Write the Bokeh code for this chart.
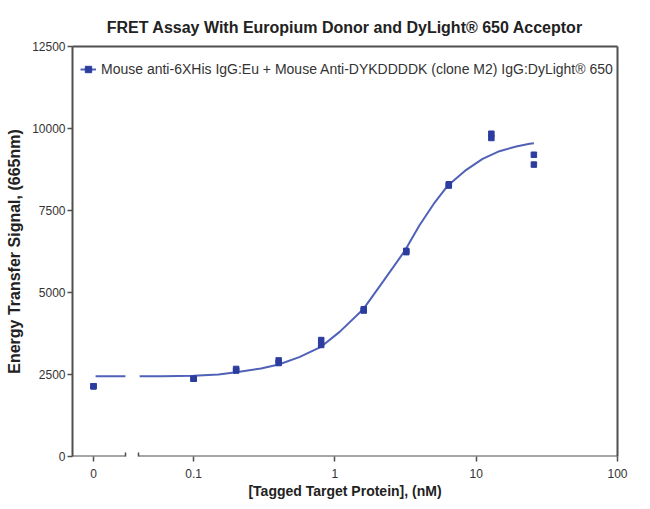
import math
from bokeh.plotting import figure
from bokeh.models import (Range1d, LinearAxis, LogAxis, LinearScale, FixedTicker,
                          Legend, LegendItem)
from bokeh.embed import file_html
from bokeh.resources import INLINE

title_text = "FRET Assay With Europium Donor and DyLight\u00ae 650 Acceptor"
x_label = "[Tagged Target Protein], (nM)"
y_label = "Energy Transfer Signal, (665nm)"
series_name = "Mouse anti-6XHis IgG:Eu + Mouse Anti-DYKDDDDK (clone M2) IgG:DyLight\u00ae 650"

# measured points (two replicates per concentration)
conc = [0.1, 0.2, 0.4, 0.8, 1.6, 3.2, 6.4, 12.8, 25.6]
rep1 = [2370, 2620, 2850, 3400, 4450, 6230, 8260, 9710, 8900]
rep2 = [2370, 2670, 2930, 3550, 4490, 6270, 8300, 9840, 9200]
zero_conc = [0, 0]
zero_signal = [2140, 2140]

# fitted curve
fit_conc = [0.0415, 0.06, 0.1, 0.15, 0.2, 0.3, 0.4, 0.56, 0.79, 1.08, 1.58, 2.19,
            3.11, 3.97, 5.0, 6.31, 8.51, 11.1, 14.6, 19.2, 23.9, 25.6]
fit_signal = [2445, 2450, 2460, 2500, 2570, 2680, 2805, 3030, 3333, 3800, 4480, 5330,
              6260, 7050, 7700, 8263, 8740, 9076, 9309, 9452, 9534, 9550]
fit_zero_x = [0.1, 1.52]
fit_zero_y = [2445, 2445]

y_ticks = [0, 2500, 5000, 7500, 10000, 12500]
x_ticks = [0.1, 1, 10, 100]
x_tick_labels = ["0.1", "1", "10", "100"]
zero_label = "0"

FONT = "Liberation Sans"
AXIS_COLOR = "#4f4f4f"
MARK_COLOR = "#2c3d9f"
LINE_COLOR = "#5061b8"

LOG_LO, LOG_HI = 0.0139, 100
ZERO_LO, ZERO_HI = -1, 24.952
LEFT_END = 1.52      # end of the zero segment of the axis
RIGHT_START = 0.0405  # start of the log segment of the axis

p = figure(width=642, height=505, x_axis_type="log",
           x_range=Range1d(LOG_LO, LOG_HI), y_range=Range1d(0, 12500),
           output_backend="svg", toolbar_location=None,
           min_border_left=72, min_border_right=25, min_border_top=46,
           min_border_bottom=49)
p.extra_x_ranges = {"zero": Range1d(ZERO_LO, ZERO_HI)}
p.extra_x_scales = {"zero": LinearScale()}
p.outline_line_color = None
p.xgrid.visible = False
p.ygrid.visible = False

p.title.text = title_text
p.title.align = "center"
p.title.text_font = FONT
p.title.text_font_size = "16px"
p.title.text_font_style = "bold"
p.title.text_color = "#222222"
p.title.standoff = 22


def style_axis(ax):
    ax.axis_line_color = AXIS_COLOR
    ax.axis_line_width = 2
    ax.major_tick_line_color = AXIS_COLOR
    ax.major_tick_line_width = 1.5
    ax.minor_tick_line_color = AXIS_COLOR
    ax.minor_tick_line_width = 1.5
    ax.major_tick_in = 0
    ax.major_tick_out = 5
    ax.minor_tick_in = 0
    ax.minor_tick_out = 0
    ax.major_label_text_font = FONT
    ax.major_label_text_font_size = "12px"
    ax.major_label_text_color = "#333333"
    ax.axis_label_text_font = FONT
    ax.axis_label_text_font_style = "bold"
    ax.axis_label_text_color = "#222222"


# position of concentration 0 on the log axis (same screen spot as the zero range's 0)
frac0 = (0 - ZERO_LO) / (ZERO_HI - ZERO_LO)
zero_tick = 10 ** (math.log10(LOG_LO) + frac0 * (math.log10(LOG_HI) - math.log10(LOG_LO)))

# bottom axis: ticks and labels only
xa = p.xaxis[0]
style_axis(xa)
xa.axis_line_color = None
xa.ticker = FixedTicker(ticks=[zero_tick] + x_ticks)
overrides = {t: l for t, l in zip(x_ticks, x_tick_labels)}
overrides[zero_tick] = zero_label
xa.major_label_overrides = overrides
xa.axis_label = x_label
xa.axis_label_text_font_size = "14px"
xa.major_label_standoff = 7
xa.axis_label_standoff = 2

# broken axis line: zero segment and log segment
za = LinearAxis(x_range_name="zero", fixed_location=0,
                ticker=FixedTicker(ticks=[], minor_ticks=[LEFT_END]),
                bounds=(ZERO_LO, LEFT_END))
style_axis(za)
za.minor_tick_in = 4
za.minor_tick_out = 4
p.add_layout(za, "below")

la = LogAxis(fixed_location=0,
             ticker=FixedTicker(ticks=[], minor_ticks=[RIGHT_START]),
             bounds=(RIGHT_START, LOG_HI))
style_axis(la)
la.minor_tick_in = 4
la.minor_tick_out = 4
p.add_layout(la, "below")

# y axis
ya = p.yaxis[0]
style_axis(ya)
ya.ticker = FixedTicker(ticks=y_ticks)
ya.axis_label = y_label
ya.axis_label_text_font_size = "16px"
ya.major_label_standoff = 2
ya.axis_label_standoff = 6

# frame top & right lines
ra = LinearAxis(ticker=FixedTicker(ticks=[]), major_tick_out=0, minor_tick_out=0,
                axis_line_color=AXIS_COLOR, axis_line_width=2)
p.add_layout(ra, "right")
ta = LinearAxis(x_range_name="zero", ticker=FixedTicker(ticks=[]), major_tick_out=12,
                minor_tick_out=0, axis_line_color=AXIS_COLOR, axis_line_width=2)
p.add_layout(ta, "above")

# curve
line_r = p.line(fit_conc, fit_signal, line_color=LINE_COLOR, line_width=2)
p.line(fit_zero_x, fit_zero_y, x_range_name="zero", line_color=LINE_COLOR,
       line_width=2)

# points
pts1 = p.scatter(conc, rep1, marker="square", size=5.5, color=MARK_COLOR)
p.scatter(conc, rep2, marker="square", size=5.5, color=MARK_COLOR)
p.scatter(zero_conc, zero_signal, x_range_name="zero", marker="square", size=5.5,
          color=MARK_COLOR)

legend = Legend(items=[LegendItem(label=series_name, renderers=[line_r, pts1])],
                location="top_left", margin=8, padding=0, glyph_width=16,
                glyph_height=30, label_standoff=5, border_line_color=None,
                background_fill_alpha=0, label_text_font=FONT,
                label_text_font_size="14px", label_text_color="#333333")
p.add_layout(legend)

open("out.html", "w").write(file_html(p, INLINE))
